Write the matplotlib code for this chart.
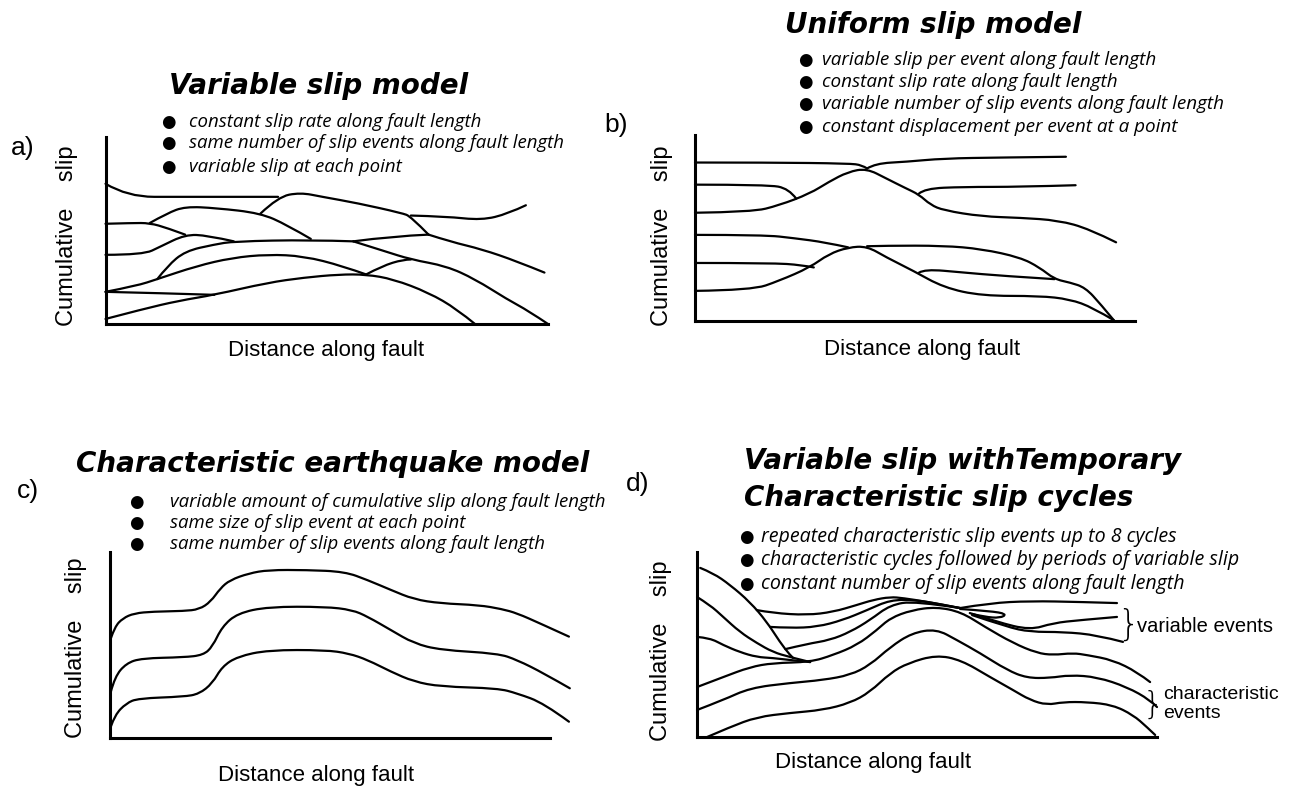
import matplotlib

matplotlib.use("Agg")
import matplotlib.pyplot as plt
from matplotlib.patches import PathPatch
from matplotlib.path import Path

W, H = 1291, 790

# every curve: (distance along fault, cumulative slip), both read on a 0-100 scale
slip_a = [
    ([0, 5, 17, 39], [75, 68, 68, 68]),
    ([35, 39, 44, 49, 57, 67, 69, 73], [59, 68, 70.3, 68, 64.6, 59.3, 57.5, 47.8]),
    ([69, 77, 85, 91, 95], [58, 57.5, 55.5, 59, 63.5]),
    ([73, 78, 85, 93, 99.2], [47.8, 44, 40, 33.5, 27.5]),
    ([10, 14, 18, 25, 35, 41, 46.4], [54, 59.3, 62.8, 62, 59.3, 53, 45.5]),
    ([0, 6, 10, 14, 18], [53.6, 54, 54, 51.3, 47.8]),
    ([0, 8.5, 12.5, 18, 23, 29], [37, 37, 41.5, 47.8, 47.4, 44.2]),
    ([11.7, 14, 18, 24.6, 29, 46.4, 56], [24, 31, 39, 42.5, 44.2, 45, 44.2]),
    ([56, 65, 73], [44.2, 47, 47.8]),
    ([56, 63, 69, 77, 83.5, 90.7, 95.6, 100], [44.2, 39, 34.5, 31, 24, 13.3, 7, 0]),
    ([0, 7, 11.7, 20.6, 28.6, 36.7, 44.8, 53.6, 58.9],
     [17.2, 20.4, 24, 31, 35.4, 37.2, 36.3, 31, 26.5]),
    ([58.9, 62.5, 67.3, 69], [26.5, 31, 34.5, 34.5]),
    ([0, 12.5, 24.6], [17.2, 16.5, 15.6]),
    ([0, 8.5, 16.5, 24.6, 36.7, 44.8, 52.8, 58.9, 65, 73, 79.4, 83.5],
     [2.7, 8, 12.4, 15.6, 22.1, 24.8, 26.5, 26.5, 24, 16.8, 8, 0]),
]

slip_b = [
    ([0, 17, 35, 38, 39.1], [85.2, 85.2, 84.7, 83.8, 82]),
    ([39.1, 41, 48, 56.5, 69.6, 84.3], [82, 84.7, 85.6, 87.4, 87.9, 88.3]),
    ([0, 13, 19.1, 26.1, 30.4, 34.8, 39, 43.5, 47.8, 50.9, 53.5, 56.5, 65.2, 73.9, 82.6, 89.6, 95.7],
     [58.2, 58.6, 62.2, 68.5, 74.8, 80.2, 82, 76.6, 71.5, 68, 62.5, 59.5, 56.2, 55.5, 54.1, 49.5, 42.3]),
    ([0, 16.5, 21.3, 23], [73.3, 73.3, 71.2, 65.8]),
    ([50.9, 52.2, 60.9, 73.9, 86.5], [68.5, 71.2, 72.1, 72.1, 73]),
    ([0, 15.7, 22.6, 29.6, 34.8], [46.3, 46.3, 44.5, 42.3, 39.6]),
    ([0, 13, 19.1, 26.1, 30.4, 34.8, 39.1, 43.5, 49.6, 56.5, 65.2, 78.3, 85.2, 90.4, 95.2],
     [16.2, 16.6, 21.6, 28.8, 36, 39.6, 40.2, 34.2, 27, 18, 13.5, 13.5, 11.7, 7.2, 0.4]),
    ([39.1, 43.5, 56.5, 65.2, 73.9, 78.3, 81.7, 85.2, 88.7, 92.2, 95.2],
     [40.2, 40.5, 40.5, 38.7, 34.2, 28.8, 22.5, 20.7, 18, 9, 0.4]),
    ([50.9, 52.2, 60.9, 69.6, 81.7], [26, 27.9, 26.1, 24.3, 22.5]),
    ([0, 17.4, 24.3, 27], [31.2, 31.2, 30.1, 28.8]),
]

slip_c = [
    ([0.2, 1.1, 2.9, 5.5, 9.8, 16.8, 20.3, 22.9, 25.1, 27.3, 31.6, 36, 44.7, 53.4, 58.6,
      63.9, 69.1, 75.2, 83.9, 89.1, 92.6, 97.8, 104.4],
     [53.6, 59.8, 64.3, 67, 67.9, 68.2, 69.1, 73.2, 80.4, 84.8, 88.4, 90.2, 90.2, 89.3, 84.8,
      79.5, 74.5, 72.3, 71.4, 69.3, 67, 61.6, 54.5]),
    ([0.2, 1.1, 3.7, 7.2, 16.8, 21.2, 23.3, 25.5, 29, 36, 49, 55.1, 58.6, 63.9, 69.1, 75.2,
      88.2, 92.6, 98.7, 104.6],
     [25, 33, 40.2, 42.9, 43.4, 44.6, 49.1, 59.8, 67, 70.5, 70.5, 68.8, 65.2, 58, 50.9, 47.3,
      45.5, 42, 34.8, 26.8]),
    ([0.2, 1.1, 3.7, 6.4, 16.8, 20.3, 23.3, 25.5, 29, 36, 49, 54.3, 58.6, 63.9, 69.1, 75.2,
      88.2, 92.6, 98.7, 104.4],
     [6.3, 12.5, 18.8, 21.4, 22.3, 23.8, 29.5, 38.4, 43.8, 47.3, 47.3, 45.5, 42, 35.7, 30.4,
      27.7, 26.8, 24.1, 18.8, 8.9]),
]

slip_d = [
    ([0.7, 3.5, 7.2, 11.5, 15.2, 18, 20.2, 20.9], [91.4, 88.6, 82.2, 73, 62.2, 51.4, 44.3, 42.7]),
    ([0, 2.8, 5.7, 9.3, 13, 16.5, 20.2, 24.6], [75.7, 71.4, 64.9, 56.8, 50.8, 45.9, 43.2, 40.5]),
    ([0, 2.8, 5.7, 9.3, 13, 16.5, 20.2, 24.6], [54.1, 53.5, 49.7, 45.9, 43.2, 42.7, 41.6, 40.5]),
    ([0, 5.7, 11.5, 16.5, 24.6, 29.6, 34.8, 39.1, 42, 46.7, 52, 57.4, 62.6, 68.7, 73.9, 77.4,
      81.7, 84.8, 90.4, 95.7, 98.5],
     [27, 32.4, 37.8, 40, 40.5, 44.3, 49.7, 57.8, 64.3, 68.6, 70.3, 67.6, 59.5, 50.8, 45.4,
      44.3, 45.4, 44.3, 41.6, 35.1, 29.7]),
    ([0, 5.7, 11.5, 20.2, 27.4, 33.3, 37.6, 42, 46.7, 52, 56.5, 61.5, 67.4, 71.7, 76.7, 81.1,
      87, 93.5, 98.5, 100],
     [14.6, 20, 26.5, 29.2, 30.8, 33.5, 38.9, 48.6, 56.2, 58.4, 52.4, 45.4, 36.2, 31.9, 31.9,
      33.5, 32.4, 27, 20, 16.2]),
    ([2.2, 7.2, 13, 20.2, 27.4, 33.3, 37.6, 42, 45.9, 52, 57.4, 63.7, 68.7, 72.4, 76.1, 79.6,
      84.8, 90.4, 94.8, 97.8, 99.6],
     [0, 5.4, 10.8, 13, 14.6, 18.4, 24.3, 34.6, 40, 44.3, 41.6, 32.4, 25.4, 20, 17.3, 18.9,
      18.9, 17.3, 11.9, 5.4, 1.1]),
    ([13, 16.5, 23.9, 29.6, 34.8, 38.3, 42, 44.8, 50.2, 57.2],
     [68.6, 67, 65.9, 67.6, 71.4, 74.1, 75.7, 75.1, 73, 69.7]),
    ([15.9, 20.2, 26.1, 31.7, 37, 42, 47.4, 52.8, 57.2],
     [59.5, 58.9, 59.5, 63.2, 68.6, 74.1, 74.1, 71.9, 69.7]),
    ([19.2, 23.9, 28.9, 33.3, 37.6, 42, 47.4, 57.2],
     [47.5, 50.3, 52.4, 56.8, 63.2, 71.4, 73.5, 69.7]),
    ([57.2, 63.7, 72.4, 83.3, 91.3], [69.7, 72.4, 73.5, 73, 72.4]),
    ([57.2, 63.7, 67.4, 65.9, 62.6, 59.8], [69.2, 68.1, 66.5, 64.3, 64.9, 66.5]),
    ([59.3, 65.2, 72.4, 77.4, 83.3, 91.3], [67, 62.2, 57.8, 61.6, 63.2, 64.9]),
    ([59.8, 67.4, 72.4, 79.6, 87, 92.6], [65.9, 59.5, 56.8, 56.8, 55.1, 51.4]),
]

titles = {
    "a": ["Variable slip model"],
    "b": ["Uniform slip model"],
    "c": ["Characteristic earthquake model"],
    "d": ["Variable slip withTemporary", "Characteristic slip cycles"],
}
bullets = {
    "a": ["constant slip rate along fault length",
          "same number of slip events along fault length",
          "variable slip at each point"],
    "b": ["variable slip per event along fault length",
          "constant slip rate along fault length",
          "variable number of slip events along fault length",
          "constant displacement per event at a point"],
    "c": ["variable amount of cumulative slip along fault length",
          "same size of slip event at each point",
          "same number of slip events along fault length"],
    "d": ["repeated characteristic slip events up to 8 cycles",
          "characteristic cycles followed by periods of variable slip",
          "constant number of slip events along fault length"],
}
x_label = "Distance along fault"
y_label = "Cumulative    slip"
d_notes = ["variable events", "characteristic\nevents"]

# placement in pixels of the 1291x790 picture
layout = {
    "a": dict(curves=slip_a, box=(105.5, 548, 137, 324), letter=(11, 155), title=(319, [94], "center"),
              dot=168, text=189, rows=[127, 148, 172], bsize=13.4, ylab=(67, 235.5), xlab=(326, 356)),
    "b": dict(curves=slip_b, box=(695, 1135, 135, 321), letter=(604, 132), title=(933, [33], "center"),
              dot=805, text=822, rows=[65, 87, 109, 132], bsize=13.6, ylab=(662, 235.5), xlab=(922, 355)),
    "c": dict(curves=slip_c, box=(110, 549.6, 551.7, 738.3), letter=(17, 498), title=(333, [472], "center"),
              dot=136, text=170, rows=[507, 528, 549], bsize=13.4, ylab=(76, 648), xlab=(316, 781)),
    "d": dict(curves=slip_d, box=(697, 1157, 552, 737), letter=(626, 491), title=(744, [469, 506], "left"),
              dot=746, text=761, rows=[542, 565, 589], bsize=14.1, ylab=(661, 651), xlab=(873.5, 768)),
}

SANS = "Liberation Sans"
ITALIC = "Open Sans"


def fx(x):
    return x / W


def fy(y):
    return 1 - y / H


def sketch_path(xs, ys):
    """Hand-drawn look: quadratic Bezier through the segment midpoints."""
    pts = list(zip(xs, ys))
    if len(pts) < 3:
        return Path(pts, [Path.MOVETO, Path.LINETO])
    verts, codes = [pts[0]], [Path.MOVETO]
    for i in range(1, len(pts) - 1):
        end = pts[-1] if i == len(pts) - 2 else (
            (pts[i][0] + pts[i + 1][0]) / 2, (pts[i][1] + pts[i + 1][1]) / 2)
        verts += [pts[i], end]
        codes += [Path.CURVE3, Path.CURVE3]
    return Path(verts, codes)


fig = plt.figure(figsize=(W / 100, H / 100), dpi=100)
fig.patch.set_facecolor("white")

for key, spec in layout.items():
    x0, x1, ytop, ybot = spec["box"]
    ax = fig.add_axes([fx(x0), fy(ybot), (x1 - x0) / W, (ybot - ytop) / H])
    ax.set_xlim(0, 100)
    ax.set_ylim(0, 100)
    ax.set_facecolor("none")
    for side in ("top", "right"):
        ax.spines[side].set_visible(False)
    for side in ("left", "bottom"):
        ax.spines[side].set_linewidth(2.2)
    ax.set_xticks([])
    ax.set_yticks([])
    for xs, ys in spec["curves"]:
        ax.add_patch(PathPatch(sketch_path(xs, ys), facecolor="none", edgecolor="black",
                               lw=1.6, capstyle="round", joinstyle="round", clip_on=False))

    fig.text(fx(spec["letter"][0]), fy(spec["letter"][1]), f"{key})", family=SANS,
             fontsize=19, ha="left", va="baseline")
    tx, baselines, align = spec["title"]
    for line, base in zip(titles[key], baselines):
        fig.text(fx(tx), fy(base), line, family="DejaVu Sans", fontsize=20,
                 fontweight="bold", style="italic", ha=align, va="baseline")
    for line, base in zip(bullets[key], spec["rows"]):
        fig.text(fx(spec["dot"]), fy(base), "\u25cf", family="DejaVu Sans", fontsize=12,
                 ha="center", va="baseline")
        fig.text(fx(spec["text"]), fy(base), line, family=ITALIC, style="italic",
                 fontsize=spec["bsize"], ha="left", va="baseline")
    fig.text(fx(spec["ylab"][0]), fy(spec["ylab"][1]), y_label, family=SANS, fontsize=17,
             rotation=90, ha="center", va="center")
    fig.text(fx(spec["xlab"][0]), fy(spec["xlab"][1]), x_label, family=SANS, fontsize=16,
             ha="center", va="baseline")

# brace notes in panel d
fig.text(fx(1128), fy(624.5), "}", family="DejaVu Sans", fontweight="light", fontsize=25,
         ha="center", va="center")
fig.text(fx(1137), fy(632), d_notes[0], family=SANS, fontsize=14.5, ha="left", va="baseline")
fig.text(fx(1153), fy(705), "}", family="DejaVu Sans", fontweight="light", fontsize=23,
         ha="center", va="center")
fig.text(fx(1163), fy(704), d_notes[1], family=SANS, fontsize=14, linespacing=1.12,
         ha="left", va="center")

fig.savefig("out.png", dpi=100, facecolor="white")
